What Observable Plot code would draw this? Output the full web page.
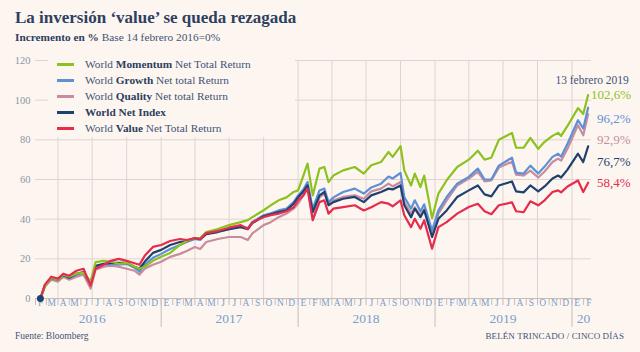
<!DOCTYPE html>
<html><head><meta charset="utf-8">
<script src="https://cdn.jsdelivr.net/npm/d3@7"></script>
<script src="https://cdn.jsdelivr.net/npm/@observablehq/plot@0.6"></script>
<style>
html,body{margin:0;padding:0;}
body{background:#fdf6f0;width:640px;height:352px;overflow:hidden;position:relative;font-family:"Liberation Serif",serif;color:#3e5475;}
#title{position:absolute;left:15px;top:8px;font-size:17px;font-weight:bold;color:#2d405f;white-space:nowrap;}
#subtitle{position:absolute;left:15px;top:31px;font-size:11.3px;color:#3e5475;white-space:nowrap;}
#subtitle b{color:#2d405f;}
#chart{position:absolute;left:0;top:48px;}
#legend{position:absolute;left:48px;top:52px;width:247px;height:85px;background:#fdf6f0;}
.row{position:absolute;left:0;height:16px;font-size:11.3px;line-height:16px;white-space:nowrap;color:#3e5475;}
.row .sw{position:absolute;left:9px;top:7px;width:17px;height:2.5px;}
.row .tx{position:absolute;left:37px;top:0;}
.row b{color:#2d405f;}
#source{position:absolute;left:15px;top:331px;font-size:9.5px;color:#3e5475;}
#credit{position:absolute;right:16px;top:331px;font-size:9px;color:#3e5475;letter-spacing:0.1px;}
</style></head>
<body>
<div id="title">La inversión ‘value’ se queda rezagada</div>
<div id="subtitle"><b>Incremento en %</b> Base 14 febrero 2016=0%</div>
<div id="chart"></div>
<div id="legend"></div>
<div id="source">Fuente: Bloomberg</div>
<div id="credit">BELÉN TRINCADO / CINCO DÍAS</div>
<script>
// ---------- data ----------
const dates = [
"2016-02-14","2016-02-26","2016-03-14","2016-04-01","2016-04-15","2016-05-01","2016-05-20","2016-06-08","2016-06-27","2016-07-10",
"2016-08-01","2016-08-20","2016-09-10","2016-10-01","2016-10-22","2016-11-04","2016-11-18","2016-12-10","2017-01-01","2017-01-25",
"2017-02-20","2017-03-10","2017-04-01","2017-04-15","2017-05-01","2017-06-01","2017-07-01","2017-08-01","2017-08-20","2017-09-01",
"2017-10-01","2017-10-20","2017-11-10","2017-12-01","2017-12-20","2018-01-01","2018-01-15","2018-01-26","2018-02-09","2018-02-27",
"2018-03-12","2018-03-23","2018-04-05","2018-05-01","2018-06-01","2018-06-25","2018-07-15","2018-08-10","2018-08-30","2018-09-10",
"2018-10-01","2018-10-11","2018-10-29","2018-11-08","2018-11-23","2018-12-03","2018-12-24","2019-01-10","2019-02-01","2019-03-01",
"2019-04-01","2019-04-25","2019-05-13","2019-05-31","2019-06-20","2019-07-25","2019-08-05","2019-08-25","2019-09-12","2019-10-03",
"2019-10-20","2019-11-10","2019-11-25","2019-12-03","2019-12-20","2020-01-17","2020-01-31","2020-02-13"];

const momentum = [0,6,10.5,9.5,12,11,12.5,13,8.5,18.3, 19,18.5,17.5,18,16,15,16,19,21,23,
 27,29,30.5,30.5,33.5,35,37,38.5,39.5,41, 44.5,47,49.5,51,53.7,54.5,62,68,52,65.5,
 66.3,58.7,62,64.6,66.3,63,67.2,68.8,73.9,71.4, 76.8,64.6,57,63,56.2,62,40.5,52.9,59.6,66.3,
 70,74.5,70,71,80,83.5,76,76,81,75.5, 79,82,83.5,82,87,96,93,102.6];
const growth = [0,6.5,10,9.5,11.5,10.5,12,13,8,16, 17,17.5,17,17.5,15.5,13.5,17,20.5,22.5,25,
 27,28.5,30,29.5,32.5,34,35,36.5,35.5,38.5, 42,43,44.4,45.3,48.6,52,55,58.7,45.3,54.5,
 55.4,48.6,51,53.7,55.4,52.9,56,57.9,61.5,60.5, 63.3,51.2,45.3,49.5,44,47.5,34.3,44.4,51.2,57.9,
 61.3,65.5,60,60,67,71,63.5,63,67,63, 66.5,71.4,73,71.5,78,89.9,85.7,96.2];
const quality = [0,6,9.5,8.5,11,9.5,11,12,5,14.5, 16,16.5,16,15,14,12,15,17,18.5,21,
 22.5,24,26,25,28.5,30,31,31,29.5,32.8, 37,38.5,41,42.8,45.3,47.8,52,56.2,39.5,51,
 52.9,47.8,49.5,51.2,52,50.3,54,55.4,57.9,56.5, 58.7,48.6,42.8,46,42,45,32,42.8,49.5,57,
 60.5,63.8,59,59.5,66,69,62.5,62,64.5,61, 64,68.8,70.5,69.5,75.5,87.4,82.3,92.9];
const world = [0,6.5,10.5,9.5,12,10.5,12.5,13.3,7.5,16.5, 17.5,18,18,18,16,15,18.5,23,24.5,27,
 28.5,29,30.5,30,32.5,33.5,35,36,35,38, 41.5,42.5,43.6,44.5,47.8,51,54,57,43.6,52,
 53.7,47,48.6,50.3,51.2,48.6,52,53.7,55.4,55, 57,47,41,45.3,41,44.5,31,40.2,44.4,51.2,
 54.5,57,52.5,51.5,57,59,54,53.5,57,54, 56.5,60.5,62,61,65,73,68.8,76.7];
const value = [0,7,11,10,12.5,11.5,14,15,6.5,15, 17,19,20,19,17.8,17,21.5,26,27,29,
 30,29.5,30.5,30,33,34,35.7,37,35,38.5, 41,42,42.8,44,46,49.5,52,55.4,39.5,48.6,
 49.5,42.8,45.3,46.1,47,44.4,46,48.6,47.8,46.5, 49.5,42,36,40.2,35.2,39.4,25.1,36,38.5,42.8,
 46.1,47.8,44,42.5,47,48.5,44,43.5,49,47, 49.5,53.7,54.5,53.5,56.5,59.5,53.7,58.4];

const seriesKeys = ["Momentum","Growth","Quality","World","Value"];
const seriesValues = [momentum, growth, quality, world, value];
const legendNames = [
  ["World ", "Momentum", " Net Total Return"],
  ["World ", "Growth", " Net total Return"],
  ["World ", "Quality", " Net total Return"],
  ["", "World Net Index", ""],
  ["World ", "Value", " Net Total Return"]];
const endLabels = ["102,6", "96,2", "92,9", "76,7", "58,4"];
const endDateLabel = "13 febrero 2019";
const yTicks = [0,20,40,60,80,100,120];
const monthLetters = ["E","F","M","A","M","J","J","A","S","O","N","D"];
const yearLabels = ["2016","2017","2018","2019","20"];

// ---------- styles / layout ----------
const colors = {Momentum:"#8cc21f", Growth:"#5d90d4", Quality:"#c78c9e", World:"#1f416f", Value:"#e62b4c"};
const drawOrder = ["Quality","Growth","World","Momentum","Value"];
const labelDy = [0, 11.5, 26, 15, 0.6];
const labelDx = [3, 9, 9, 9, 9];
const gridColor = "#dfd3d1";
const axisColor = "#c5bcbc";
const blueText = "#7b9dcb";

const parse = d3.utcParse("%Y-%m-%d");
const rows = [];
seriesKeys.forEach((k, s) => dates.forEach((d, i) => rows.push({series: k, date: parse(d), v: seriesValues[s][i]})));

const x0 = new Date(Date.UTC(2016,1,1)), x1 = new Date(Date.UTC(2020,1,22));
const monthStarts = d3.utcMonth.range(x0, x1);
const monthMids = monthStarts.map(d => new Date(Date.UTC(d.getUTCFullYear(), d.getUTCMonth(), 15)));
const quarterStarts = d3.utcMonth.every(3).range(new Date(Date.UTC(2016,3,1)), x1);
const yearStarts = d3.utcYear.range(new Date(Date.UTC(2016,6,1)), x1);
const yearMids = [2016,2017,2018,2019].map(y => new Date(Date.UTC(y,6,1))).concat([new Date(Date.UTC(2020,1,1))]);
const lastDate = parse(dates[dates.length-1]);

const marks = [
  Plot.gridY(yTicks.filter(t => t > 0), {stroke: gridColor, strokeOpacity: 1}),
  Plot.ruleX(quarterStarts, {y1: 0, y2: 120, stroke: gridColor, strokeOpacity: 1}),
  Plot.axisY(yTicks, {tickSize: 0, tickPadding: 5, fontSize: 10.5, fill: "#8d95a7", stroke: "none", label: null}),
  Plot.axisX(monthStarts, {tickSize: 7, tickFormat: () => "", stroke: axisColor, label: null}),
  Plot.axisX(yearStarts, {tickSize: 29, tickFormat: () => "", stroke: axisColor, label: null}),
  Plot.axisX(monthMids, {tickSize: 0, tickPadding: 1, tickFormat: d => monthLetters[d.getUTCMonth()], fill: blueText, fontSize: 9.5, label: null}),
  Plot.axisX(yearMids, {tickSize: 0, tickPadding: 15, tickFormat: (d, i) => yearLabels[i], fill: blueText, fontSize: 13.5, label: null}),
  Plot.ruleY([0], {stroke: axisColor}),
];
for (const k of drawOrder) {
  marks.push(Plot.line(rows.filter(r => r.series === k), {x: "date", y: "v", stroke: colors[k], strokeWidth: 2.2, strokeLinejoin: "round"}));
}
marks.push(Plot.dot([rows[0]], {x: "date", y: "v", r: 3.5, fill: colors.World}));
seriesKeys.forEach((k, s) => {
  marks.push(Plot.text([{date: lastDate, v: seriesValues[s][seriesValues[s].length-1]}], {
    x: "date", y: "v", text: () => endLabels[s] + "%", textAnchor: "start",
    dx: labelDx[s], dy: labelDy[s], fill: colors[k], fontSize: 13, ariaLabel: "endlabel"}));
});
marks.push(Plot.text([{date: lastDate, v: momentum[momentum.length-1]}], {
  x: "date", y: "v", text: () => endDateLabel, textAnchor: "middle", dx: 4, dy: -15, fill: "#3e5475", fontSize: 11.5}));

const chart = Plot.plot({
  width: 640, height: 285,
  marginTop: 12, marginBottom: 35, marginLeft: 35, marginRight: 49,
  x: {type: "utc", domain: [x0, x1], label: null},
  y: {domain: [0, 120], label: null},
  style: {background: "transparent", fontFamily: "Liberation Serif, serif", overflow: "visible"},
  marks
});
document.getElementById("chart").appendChild(chart);

// smaller % sign
d3.select(chart).selectAll('g[aria-label="endlabel"] text').each(function() {
  const t = d3.select(this);
  const s = t.text();
  t.text(s.slice(0, -1));
  t.append("tspan").attr("font-size", 9).text("%");
});

// legend
const leg = document.getElementById("legend");
seriesKeys.forEach((k, i) => {
  const row = document.createElement("div");
  row.className = "row";
  row.style.top = (4 + i * 16) + "px";
  const [a, b, c] = legendNames[i];
  row.innerHTML = `<span class="sw" style="background:${colors[k]}"></span><span class="tx">${a}<b>${b}</b>${c}</span>`;
  leg.appendChild(row);
});
</script>
</body></html>
